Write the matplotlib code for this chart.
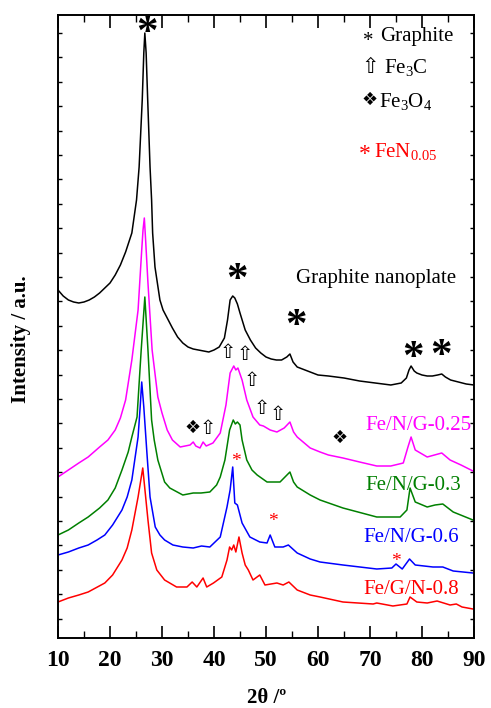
import matplotlib
matplotlib.use("Agg")
import matplotlib.pyplot as plt
import numpy as np

plt.rcParams['font.family'] = ['Liberation Serif', 'DejaVu Sans']
plt.rcParams['mathtext.fontset'] = 'custom'
plt.rcParams['mathtext.rm'] = 'Liberation Serif'
plt.rcParams['mathtext.it'] = 'Liberation Serif'

# ---------------- data (2theta, intensity a.u.) ----------------
graphite_x = [10, 11, 12, 13, 14, 15, 16, 17, 18, 19, 20, 21, 22, 23, 24.2, 25.1, 25.6, 26.2, 26.5,
              26.7, 26.95, 27.25, 27.7, 28.0, 28.2, 28.65, 29.6, 30.2, 31, 32, 33, 34, 35, 36, 37, 38,
              39, 40, 41, 42, 42.6, 43.1, 43.6, 44.0, 44.5, 45, 46, 47, 48, 49, 50, 51, 52, 53, 54,
              54.6, 55.2, 56, 58, 60, 62, 65, 68, 71, 74, 76, 77, 77.5, 77.9, 78.5, 79, 80, 81, 82,
              83, 83.8, 84.5, 85.5, 87, 88.5, 90]
graphite_y = [348, 342, 338, 336, 335, 336, 338, 341, 345, 350, 355, 363, 373, 386, 405, 438, 471, 538,
              585, 605, 585, 538, 471, 438, 405, 371, 338, 328, 320, 310, 301, 295, 291, 289, 288, 287,
              286, 288, 291, 300, 318, 338, 342, 340, 334, 325, 308, 298, 290, 285, 281, 279, 278, 278,
              281, 284, 276, 271, 267, 263, 262, 260, 257, 255, 253, 255, 260, 268, 272, 267, 265, 263,
              262, 262, 263, 264, 261, 258, 256, 254, 253]

g025_x = [10, 12, 14, 15.8, 18, 19.6, 21, 22, 23, 24.2, 25.4, 26.1, 26.35, 26.6, 26.85, 27.3, 28.1,
          29.2, 30, 31, 32, 33.5, 35.4, 36, 36.5, 37.3, 37.9, 38.5, 39.8, 41.2, 42.3, 43.1, 43.8, 44.2,
          44.6, 45.4, 46.3, 47.5, 48.8, 49.5, 50.8, 52.1, 53.5, 54.6, 55.3, 56, 58.5, 60.4, 62, 64.8,
          68, 71.3, 74, 76.4, 77.3, 77.9, 78.7, 81, 83.8, 85.4, 87.5, 89.8]
g025_y = [161, 168, 175, 181, 191, 198, 208, 220, 238, 278, 328, 388, 408, 420, 398, 355, 288, 241,
          225, 208, 198, 191, 193, 196, 192, 190, 196, 192, 195, 205, 233, 265, 272, 268, 270, 258,
          238, 221, 213, 212, 208, 206, 210, 216, 206, 201, 190, 186, 183, 180, 176, 172, 172, 175,
          191, 201, 188, 181, 185, 178, 173, 167]

g03_x = [10, 12, 14, 15.8, 18, 19.6, 21, 22.3, 23.5, 24.2, 25.2, 26, 26.7, 27.3, 28, 28.5, 29.2,
         30.5, 31.5, 34, 36, 37.5, 39.2, 40.5, 41.2, 42.1, 43, 43.7, 44.1, 44.5, 45, 45.4, 46.3, 47.3,
         48.3, 50.2, 52.7, 54.6, 55.3, 56, 58.5, 60.4, 64.8, 71.3, 75.8, 77.1, 77.7, 78.7, 81, 82.5,
         84, 86, 89.8]
g03_y = [103, 108, 115, 121, 130, 138, 150, 168, 186, 201, 221, 288, 341, 288, 218, 198, 178, 156,
         150, 143, 145, 145, 146, 153, 161, 178, 208, 218, 214, 216, 213, 198, 178, 168, 163, 156,
         156, 166, 156, 151, 143, 138, 130, 121, 121, 128, 150, 136, 131, 133, 134, 126, 118]

g06_x = [10, 12, 14, 15.8, 17.5, 19, 20.5, 22.3, 23.3, 24.2, 25.4, 25.8, 26.1, 26.5, 27.1, 27.7,
         28.7, 29.6, 30.5, 32.1, 34, 36, 37.6, 39.2, 41.2, 42.5, 43.1, 43.6, 44, 44.5, 45.4, 46.9,
         48.8, 50.2, 50.8, 51.7, 53.3, 54.3, 56, 58.5, 60.4, 64.8, 71.3, 74.2, 75, 76.2, 77.6, 78.7,
         82.1, 84, 86, 89.8]
g06_y = [83, 86, 90, 93, 98, 103, 113, 128, 141, 158, 201, 231, 256, 231, 185, 141, 111, 103, 98,
         93, 91, 90, 92, 91, 101, 131, 148, 171, 135, 133, 115, 101, 96, 95, 103, 91, 91, 93, 85, 79,
         76, 73, 69, 70, 74, 69, 79, 73, 71, 71, 67, 65]

g08_x = [10, 12, 14, 15.8, 19, 20.5, 22.3, 23.3, 24.2, 25.4, 26.3, 27.3, 28, 29, 30.5, 32.8, 34.8,
         35.8, 36.7, 37.9, 38.6, 39.9, 41.5, 42.5, 43, 43.4, 43.8, 44.2, 44.8, 45.4, 46, 46.6, 47.5,
         48.8, 49.8, 52.1, 53.3, 54.4, 56, 58.5, 60.4, 64.8, 70.6, 71.3, 74.4, 77.1, 77.7, 79, 81,
         82.9, 85.4, 86.6, 87.7, 89.8]
g08_y = [36, 40, 43, 46, 55, 63, 78, 90, 108, 141, 170, 118, 85, 68, 58, 51, 51, 56, 51, 60, 51, 55,
         61, 78, 91, 88, 93, 86, 101, 85, 73, 68, 58, 63, 53, 55, 53, 56, 48, 43, 41, 36, 34, 35, 32,
         34, 41, 36, 35, 37, 33, 34, 31, 29]

series = [
    (graphite_x, graphite_y, '#000000', 'Graphite nanoplate'),
    (g025_x, g025_y, '#ff00ff', 'Fe/N/G-0.25'),
    (g03_x, g03_y, '#008000', 'Fe/N/G-0.3'),
    (g06_x, g06_y, '#0000ff', 'Fe/N/G-0.6'),
    (g08_x, g08_y, '#ff0000', 'Fe/G/N-0.8'),
]

x_ticks = [10, 20, 30, 40, 50, 60, 70, 80, 90]

# ---------------- figure ----------------
W, H = 491, 708
fig = plt.figure(figsize=(W / 100, H / 100), dpi=100)
ax = fig.add_axes([58 / W, 1 - 638 / H, (474 - 58) / W, (638 - 15) / H])

for xs, ys, c, lab in series:
    ax.plot(xs, ys, color=c, lw=1.1)

ax.set_xlim(10, 90)
ax.set_ylim(0, 623)
ax.set_xticks(x_ticks)
ax.set_xticks(np.arange(15, 90, 10), minor=True)
ax.set_yticks(np.arange(19.4, 623, 24.4))
ax.set_yticklabels([])
ax.tick_params(axis='x', which='major', direction='in', length=9, width=1.2, top=True,
               labelsize=17, pad=9)
ax.tick_params(axis='x', which='minor', direction='in', length=5, width=1.0, top=True)
ax.tick_params(axis='y', which='major', direction='in', length=3, width=1.0, right=True)
for lbl in ax.get_xticklabels():
    lbl.set_fontweight('bold')
for s in ax.spines.values():
    s.set_linewidth(1.4)

ax.set_xlabel('2θ /º', fontsize=15, fontweight='bold')
ax.xaxis.set_label_coords((267 - 58) / 416, (638 - 688) / 623)
ax.set_ylabel('Intensity / a.u.', fontsize=15, fontweight='bold')
ax.yaxis.set_label_coords((31 - 58) / 416, (638 - 339) / 623)


def px(x, y, s, **kw):
    fig.text(x / W, 1 - y / H, s, ha=kw.pop('ha', 'center'), va=kw.pop('va', 'center'), **kw)


# big graphite asterisks
for (x, y) in [(147, 34), (237, 281), (296, 327), (413, 359), (441, 357)]:
    px(x, y, '*', fontsize=31, fontweight='bold', color='black')

# red FeN asterisks
for (x, y) in [(236, 462), (273, 521), (396, 561)]:
    px(x, y, '*', fontsize=14, color='red')

# Fe3C arrows
for (x, y) in [(228, 353), (245, 354), (252, 381), (262, 409), (278, 414), (208, 428)]:
    px(x, y, '⇧', fontsize=14, family='DejaVu Sans', color='black')

# Fe3O4 diamonds
for (x, y) in [(193, 428), (340, 438)]:
    px(x, y, '❖', fontsize=13, family='DejaVu Sans', color='black')

# legend block
px(368, 41, '*', fontsize=15, color='black')
px(380, 37, 'Graphite', fontsize=15, ha='left')
px(370, 67, '⇧', fontsize=15, family='DejaVu Sans')
px(384, 67, 'Fe$_3$C', fontsize=15, ha='left')
px(370, 100, '❖', fontsize=13, family='DejaVu Sans')
px(379, 102, 'Fe$_3$O$_4$', fontsize=15, ha='left')
px(365, 154, '*', fontsize=17, color='red')
px(374, 152, 'FeN$_{0.05}$', fontsize=15, ha='left', color='red')

# curve labels
px(296, 278, 'Graphite nanoplate', fontsize=15, ha='left', color='black')
px(365, 425, 'Fe/N/G-0.25', fontsize=15, ha='left', color='#ff00ff')
px(365, 485, 'Fe/N/G-0.3', fontsize=15, ha='left', color='#008000')
px(363, 537, 'Fe/N/G-0.6', fontsize=15, ha='left', color='#0000ff')
px(363, 589, 'Fe/G/N-0.8', fontsize=15, ha='left', color='#ff0000')

fig.savefig('out.png', dpi=100)
